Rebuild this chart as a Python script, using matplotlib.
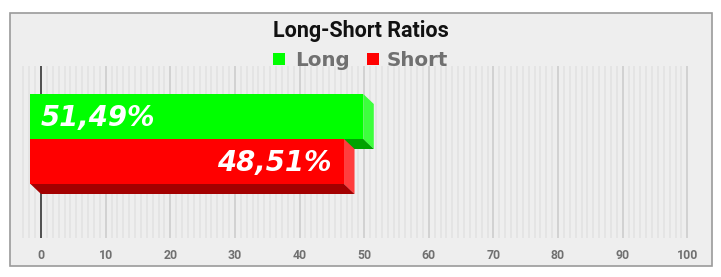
import matplotlib
matplotlib.use("Agg")
import matplotlib.pyplot as plt
from matplotlib.patches import Polygon, Rectangle
import numpy as np

# ---- data ----
title = "Long-Short Ratios"
series = ["Long", "Short"]
values = [51.49, 48.51]
value_labels = ["51,49%", "48,51%"]
xticks = [0, 10, 20, 30, 40, 50, 60, 70, 80, 90, 100]

# ---- style ----
front_colors = ["#00ff00", "#ff0000"]
side_colors = ["#3dff3d", "#ff3d3d"]
bottom_colors = ["#00a300", "#a30000"]

W, H = 721, 277
fig = plt.figure(figsize=(W / 100, H / 100), dpi=100)
fig.patch.set_facecolor("white")

def fx(x):
    return x / W

def fy(y):
    return 1 - y / H

# outer panel
panel = Rectangle((fx(9.5), fy(266)), (712 - 9.5) / W, (266 - 12.5) / H,
                  transform=fig.transFigure, facecolor="#eeeeee",
                  edgecolor="#9a9a9a", lw=1.2, zorder=-10)
fig.patches.append(panel)

# axes in pixel geometry
ax_l, ax_r, ax_t, ax_b = 20, 690, 66, 238
ax = fig.add_axes([fx(ax_l), fy(ax_b), (ax_r - ax_l) / W, (ax_b - ax_t) / H])
ax.set_zorder(1)
ax.set_facecolor("none")
px0, px100 = 41.0, 687.3
ppx = (px100 - px0) / 100.0
ax.set_xlim((ax_l - px0) / ppx, (ax_r - px0) / ppx)
ppy = 45.0  # pixels per category unit
top_units = -60.5 / ppy
ax.set_ylim(top_units + (ax_b - ax_t) / ppy, top_units)
for s in ax.spines.values():
    s.set_visible(False)
ax.set_yticks([])

# grid
step = 10 / 11
minor = [k * step for k in range(-3, 111) if k % 11 != 0]
for m in minor:
    ax.axvline(m, color="#e1e1e1", lw=1.1, zorder=1)
for t in xticks:
    if t == 0:
        ax.axvline(t, color="#333333", lw=1.2, zorder=2)
    else:
        ax.axvline(t, color="#cdcdcd", lw=1.2, zorder=2)

ax.set_xticks(xticks)
ax.set_xticklabels([str(t) for t in xticks])
ax.tick_params(axis="x", length=0, pad=8, labelsize=8.8, labelcolor="#707070")
for lab in ax.get_xticklabels():
    lab.set_fontweight("bold")
    lab.set_family("Roboto")

# 3D bars
dx = -10.5 / ppx
dy = -10.0 / ppy
for i, (v, lab) in enumerate(zip(values, value_labels)):
    y0, y1 = i - 0.5, i + 0.5
    side = Polygon([(v + dx, y0 + dy), (v, y0), (v, y1), (v + dx, y1 + dy)],
                   closed=True, facecolor=side_colors[i], edgecolor="none", zorder=5 + 3 * i)
    bottom = Polygon([(dx, y1 + dy), (v + dx, y1 + dy), (v, y1), (0, y1)],
                     closed=True, facecolor=bottom_colors[i], edgecolor="none", zorder=5 + 3 * i)
    front = Rectangle((dx, y0 + dy), v, 1.0, facecolor=front_colors[i],
                      edgecolor="none", zorder=6 + 3 * i)
    ax.add_patch(side)
    ax.add_patch(bottom)
    ax.add_patch(front)
    base_y = i + dy + 9.5 / ppy
    if i == 0:
        ax.text(dx + 10.2 / ppx, base_y, lab, ha="left", va="baseline",
                fontsize=19.8, fontweight="bold", style="italic",
                family="DejaVu Sans", color="white", zorder=20)
    else:
        ax.text(v + dx - 12.2 / ppx, base_y, lab, ha="right", va="baseline",
                fontsize=19.8, fontweight="bold", style="italic",
                family="DejaVu Sans", color="white", zorder=20)

# title
fig.text(fx(361), fy(37), title, ha="center", va="baseline", fontsize=15.5,
         fontweight="bold", family="Roboto", color="#111111")

# legend (manual)
sq_x = [272.7, 366.7]
txt_x = [295, 387]
for i, name in enumerate(series):
    fig.patches.append(Rectangle((fx(sq_x[i]), fy(65.3)), 12.3 / W, 12.3 / H,
                                 transform=fig.transFigure, facecolor=front_colors[i],
                                 edgecolor="none", zorder=3))
    fig.text(fx(txt_x[i]), fy(66), name, ha="left", va="baseline", fontsize=14.3,
             fontweight="bold", family="DejaVu Sans", color="#707070")

fig.savefig("out.png", dpi=100)
